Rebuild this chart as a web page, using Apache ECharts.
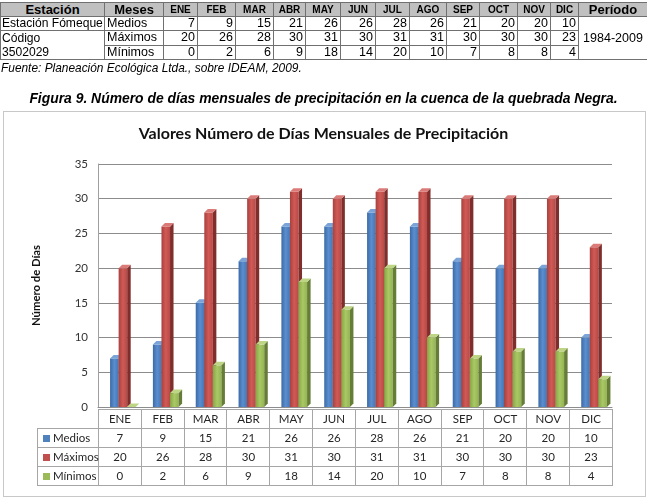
<!DOCTYPE html>
<html>
<head>
<meta charset="utf-8">
<script src="https://cdn.jsdelivr.net/npm/echarts@6/dist/echarts.min.js"></script>
<style>
body{margin:0;background:#fff;width:647px;height:498px;position:relative;overflow:hidden;font-family:"Liberation Sans",Arial,sans-serif;}
#main{position:absolute;left:0;top:0;width:647px;height:498px;}
.box{position:absolute;left:3px;top:111px;width:641px;height:384px;border:1px solid #c8c8c8;}
table{border-collapse:collapse;table-layout:fixed;position:absolute;}
#tabla{left:0;top:2px;width:647px;font-size:12.5px;color:#000;}
#tabla td{border:1px solid #707070;height:13px;padding:0 2px;line-height:13px;white-space:nowrap;overflow:hidden;}
#tabla td.est{padding:0 0 0 1px;font-size:12.1px;}
#tabla tr.hd td{background:#c0c0c0;font-weight:bold;text-align:center;font-size:13px;}
#tabla tr.hd td.m{font-size:10px;padding:0;}
#tabla td.n{text-align:right;}
#fuente{position:absolute;left:1px;top:61px;font-style:italic;font-size:11.9px;}
#caption{position:absolute;left:0;top:90px;width:647px;text-align:center;font-style:italic;font-weight:bold;font-size:13.9px;}
#dt{left:37px;top:409px;width:575px;font-family:Lato,sans-serif;font-size:11.5px;color:#262626;}
#dt td{border:1px solid #a6a6a6;text-align:center;padding:0;height:18px;line-height:18px;white-space:nowrap;}
#dt td.lg{text-align:left;padding-left:5px;}
#dt td.empty{border-top:none;border-left:none;}
.sq{display:inline-block;width:7px;height:7px;margin-right:3px;vertical-align:0px;}
</style>
</head>
<body>
<div id="main"></div>
<div class="box"></div>
<table id="tabla"></table>
<div id="fuente">Fuente: Planeación Ecológica Ltda., sobre IDEAM, 2009.</div>
<div id="caption">Figura 9. Número de días mensuales de precipitación en la cuenca de la quebrada Negra.</div>
<table id="dt"></table>
<script>
var months = ['ENE', 'FEB', 'MAR', 'ABR', 'MAY', 'JUN', 'JUL', 'AGO', 'SEP', 'OCT', 'NOV', 'DIC'];
var medios = [7, 9, 15, 21, 26, 26, 28, 26, 21, 20, 20, 10];
var maximos = [20, 26, 28, 30, 31, 30, 31, 31, 30, 30, 30, 23];
var minimos = [0, 2, 6, 9, 18, 14, 20, 10, 7, 8, 8, 4];
var seriesNames = ['Medios', 'Máximos', 'Mínimos'];
var seriesColors = ['#4f81bd', '#c0504d', '#9bbb59'];

//tabla superior
var colW = [104, 59, 34, 38, 38, 32, 35, 35, 34, 37, 33, 38, 33, 28, 69];
var html = '<colgroup>';
for (var i = 0; i < colW.length; i++) html += '<col style="width:' + colW[i] + 'px">';
html += '</colgroup><tr class="hd"><td>Estación</td><td>Meses</td>';
for (var i = 0; i < months.length; i++) html += '<td class="m">' + months[i] + '</td>';
html += '<td>Período</td></tr>';
function filas(arr) {
	var s = '';
	for (var i = 0; i < arr.length; i++) s += '<td class="n">' + arr[i] + '</td>';
	return s;
}
html += '<tr><td class="est">Estación Fómeque</td><td>Medios</td>' + filas(medios) + '<td rowspan="3" style="text-align:center">1984-2009</td></tr>';
html += '<tr><td class="est" rowspan="2" style="vertical-align:top;line-height:14px">Código<br>3502029</td><td>Máximos</td>' + filas(maximos) + '</tr>';
html += '<tr><td>Mínimos</td>' + filas(minimos) + '</tr>';
document.getElementById('tabla').innerHTML = html;

//tabla de datos bajo el grafico
var dt = '<colgroup><col style="width:61px">';
for (var i = 0; i < months.length; i++) dt += '<col style="width:' + (514 / 12) + 'px">';
dt += '</colgroup><tr><td class="empty"></td>';
for (var i = 0; i < months.length; i++) dt += '<td>' + months[i] + '</td>';
dt += '</tr>';
var all = [medios, maximos, minimos];
for (var s = 0; s < 3; s++) {
	dt += '<tr><td class="lg"><span class="sq" style="background:' + seriesColors[s] + '"></span>' + seriesNames[s] + '</td>';
	for (var i = 0; i < months.length; i++) dt += '<td>' + all[s][i] + '</td>';
	dt += '</tr>';
}
document.getElementById('dt').innerHTML = dt;

function toData(arr) {
	var out = [];
	for (var i = 0; i < arr.length; i++) out.push([i, arr[i]]);
	return out;
}

//barras 3D
function bar3d(slot, front, side, top) {
	return function(params, api) {
		var idx = api.value(0);
		var v = api.value(1);
		var p = api.coord([idx, v]);
		var b = api.coord([idx, 0]);
		var band = api.size([1, 0])[0];
		var w = band * 0.2, d = 3.5;
		var x0 = p[0] - 1.5 * w + slot * w + d;
		var y1 = p[1], y0 = b[1];
		return {
			type: 'group',
			children: [{
				type: 'rect',
				shape: { x: x0, y: y1, width: w, height: y0 - y1 },
				style: { fill: new echarts.graphic.LinearGradient(0, 0, 1, 0, front) }
			}, {
				type: 'polygon',
				shape: { points: [[x0 + w, y1], [x0 + w + d, y1 - d], [x0 + w + d, y0 - d], [x0 + w, y0]] },
				style: { fill: side }
			}, {
				type: 'polygon',
				shape: { points: [[x0, y1], [x0 + d, y1 - d], [x0 + w + d, y1 - d], [x0 + w, y1]] },
				style: { fill: top }
			}]
		};
	};
}

var option = {
	animation: false,
	backgroundColor: 'transparent',
	title: {
		text: 'Valores Número de Días Mensuales de Precipitación',
		left: 'center',
		top: 121,
		textStyle: { fontFamily: 'Lato', fontWeight: 'bold', fontSize: 16, color: '#111' }
	},
	grid: { left: 98, right: 35, top: 164, bottom: 91 },
	xAxis: {
		type: 'category',
		data: months,
		axisLine: { show: true, lineStyle: { color: '#8c8c8c' } },
		axisTick: { show: false },
		axisLabel: { show: false }
	},
	yAxis: {
		type: 'value',
		min: 0,
		max: 35,
		interval: 5,
		name: 'Número de Días',
		nameLocation: 'middle',
		nameRotate: 90,
		nameGap: 56,
		nameTextStyle: { fontFamily: 'Lato', fontWeight: 'bold', fontSize: 11.3, color: '#111' },
		axisLine: { show: true, lineStyle: { color: '#a0a0a0' } },
		axisTick: { show: false },
		axisLabel: { margin: 10, fontFamily: 'Lato', fontSize: 11.5, color: '#333' },
		splitLine: { show: true, lineStyle: { color: '#8c8c8c' } }
	},
	series: [{
		name: 'Medios',
		type: 'custom',
		data: toData(medios),
		renderItem: bar3d(0, [{ offset: 0, color: '#3b6aa6' }, { offset: 0.5, color: '#5b8ecf' }, { offset: 1, color: '#4576b4' }], '#2f5584', '#7aa3d8')
	}, {
		name: 'Máximos',
		type: 'custom',
		data: toData(maximos),
		renderItem: bar3d(1, [{ offset: 0, color: '#a9403d' }, { offset: 0.5, color: '#d05a56' }, { offset: 1, color: '#b94946' }], '#7f2e2c', '#db7b78')
	}, {
		name: 'Mínimos',
		type: 'custom',
		data: toData(minimos),
		renderItem: bar3d(2, [{ offset: 0, color: '#86a644' }, { offset: 0.5, color: '#aac966' }, { offset: 1, color: '#93b451' }], '#657d36', '#bdd585')
	}]
};
var myChart = echarts.init(document.getElementById('main'));
myChart.setOption(option);
</script>
</body>
</html>
